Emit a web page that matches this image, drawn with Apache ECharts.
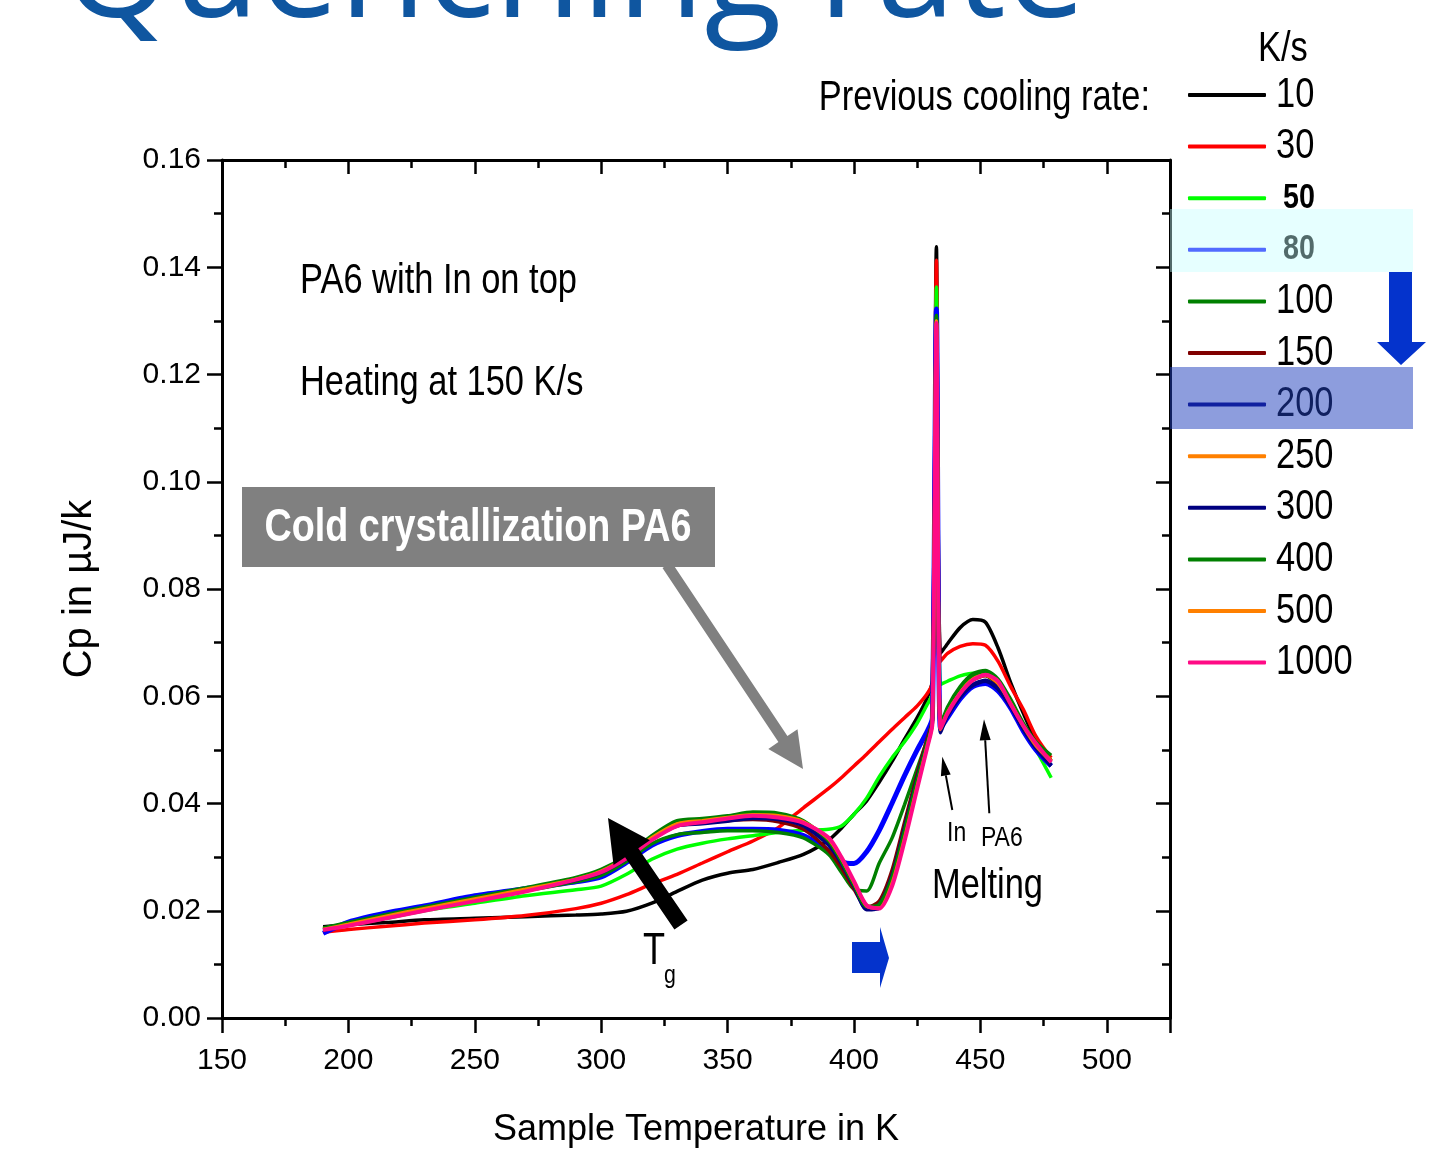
<!DOCTYPE html>
<html>
<head>
<meta charset="utf-8">
<script src="https://cdn.jsdelivr.net/npm/echarts@6/dist/echarts.min.js"></script>
<style>
html,body{margin:0;padding:0;background:#fff;}
#chart{width:1451px;height:1152px;}
</style>
</head>
<body>
<div id="chart"></div>
<script>
// ---------- data ----------
const temps = [190, 200, 215, 230, 250, 270, 290, 300, 310, 320, 330, 340, 350, 360, 370, 380, 390, 395, 400, 405, 410, 415, 420, 425, 429, 431, 432.6, 434.2, 437, 442, 447, 452, 457, 462, 467, 472, 478];

const rateNames = ['10', '30', '50', '80', '100', '150', '200', '250', '300', '400', '500', '1000'];
const rateColors = ['#000000', '#ff0000', '#00ff00', '#0000ff', '#008000', '#800000', '#000080', '#ff8000', '#000080', '#008000', '#ff8000', '#ff0a85'];

const cp10   = [.0170, .0174, .0178, .0183, .0186, .0189, .0192, .0194, .0199, .0214, .0236, .0257, .0270, .0277, .0290, .0305, .0332, .0354, .0380, .0405, .0440, .0478, .0520, .0560, .0598, .0630, .1438, .0680, .0698, .0728, .0743, .0738, .0690, .0625, .0568, .0518, .0480];
const cp30   = [.0160, .0165, .0171, .0177, .0183, .0191, .0204, .0214, .0230, .0250, .0268, .0289, .0310, .0330, .0355, .0392, .0428, .0448, .0470, .0492, .0515, .0538, .0560, .0582, .0605, .0625, .1413, .0665, .0680, .0693, .0698, .0695, .0665, .0618, .0575, .0525, .0485];
const cp50   = [.0166, .0173, .0186, .0200, .0214, .0228, .0239, .0246, .0268, .0296, .0315, .0326, .0334, .0340, .0346, .0350, .0352, .0358, .0380, .0410, .0450, .0485, .0515, .0550, .0585, .0605, .1363, .0622, .0628, .0638, .0643, .0640, .0617, .0580, .0537, .0500, .0448];
const cp80   = [.0158, .0179, .0196, .0209, .0228, .0241, .0254, .0263, .0290, .0322, .0340, .0348, .0352, .0352, .0350, .0340, .0312, .0292, .0288, .0310, .0350, .0400, .0452, .0500, .0535, .0560, .1322, .0540, .0560, .0595, .0618, .0624, .0610, .0578, .0535, .0500, .0470];
const cp100  = [.0165, .0175, .0189, .0202, .0221, .0237, .0254, .0266, .0292, .0325, .0342, .0346, .0349, .0349, .0346, .0336, .0305, .0272, .0240, .0237, .0289, .0335, .0398, .0465, .0520, .0555, .1310, .0548, .0575, .0612, .0636, .0645, .0630, .0590, .0545, .0508, .0478];
const cp150  = [.0165, .0175, .0190, .0204, .0222, .0240, .0258, .0272, .0298, .0334, .0360, .0364, .0368, .0370, .0366, .0352, .0312, .0280, .0240, .0206, .0218, .0275, .0365, .0455, .0522, .0555, .1300, .0540, .0572, .0607, .0630, .0638, .0622, .0587, .0545, .0510, .0480];
const cp200  = [.0163, .0174, .0189, .0203, .0221, .0239, .0257, .0271, .0297, .0333, .0358, .0362, .0367, .0372, .0370, .0358, .0322, .0288, .0245, .0203, .0212, .0265, .0355, .0448, .0516, .0552, .1300, .0535, .0565, .0600, .0622, .0630, .0615, .0582, .0540, .0505, .0472];
const cp250  = [.0166, .0176, .0191, .0205, .0223, .0241, .0260, .0275, .0301, .0337, .0364, .0369, .0375, .0380, .0378, .0366, .0332, .0296, .0252, .0210, .0207, .0255, .0340, .0436, .0510, .0550, .1300, .0540, .0572, .0608, .0632, .0640, .0625, .0588, .0546, .0510, .0480];
const cp300  = [.0164, .0174, .0189, .0203, .0222, .0240, .0258, .0273, .0299, .0335, .0360, .0365, .0370, .0374, .0372, .0360, .0326, .0292, .0248, .0202, .0205, .0258, .0345, .0440, .0512, .0550, .1300, .0532, .0563, .0598, .0620, .0628, .0613, .0580, .0538, .0503, .0470];
const cp400  = [.0168, .0178, .0193, .0207, .0225, .0243, .0262, .0277, .0303, .0340, .0368, .0372, .0377, .0384, .0382, .0368, .0330, .0292, .0248, .0208, .0212, .0262, .0350, .0445, .0515, .0552, .1310, .0545, .0580, .0618, .0642, .0648, .0632, .0594, .0550, .0515, .0490];
const cp500  = [.0165, .0175, .0190, .0204, .0222, .0240, .0259, .0274, .0300, .0336, .0362, .0368, .0374, .0379, .0377, .0366, .0334, .0298, .0253, .0209, .0205, .0250, .0335, .0432, .0508, .0549, .1300, .0538, .0570, .0606, .0631, .0639, .0624, .0586, .0544, .0508, .0478];
const cp1000 = [.0164, .0172, .0186, .0200, .0218, .0236, .0258, .0272, .0298, .0332, .0358, .0365, .0372, .0377, .0374, .0364, .0336, .0300, .0255, .0210, .0204, .0245, .0330, .0428, .0505, .0548, .1296, .0540, .0568, .0605, .0630, .0640, .0628, .0585, .0545, .0512, .0477];

const cpSeries = [cp10, cp30, cp50, cp80, cp100, cp150, cp200, cp250, cp300, cp400, cp500, cp1000];

const xTicks = [150, 200, 250, 300, 350, 400, 450, 500];
const yTicks = [0, 0.02, 0.04, 0.06, 0.08, 0.10, 0.12, 0.14, 0.16];

// ---------- chart ----------
const FONT = "'Liberation Sans',Arial,sans-serif";
const NARROW = 0.82;   // reference text is a narrow face
const chart = echarts.init(document.getElementById('chart'), null, {renderer: 'canvas'});

const series = rateNames.map((name, i) => ({
  name: name,
  type: 'line',
  xAxisIndex: 0,
  yAxisIndex: 0,
  data: temps.map((t, k) => [t, cpSeries[i][k]]),
  symbol: 'none',
  showSymbol: false,
  smooth: 0.25,
  color: rateColors[i],
  lineStyle: {color: rateColors[i], width: name === '80' ? 5 : (name === '1000' ? 4 : 3.5)},
  emphasis: {disabled: true},
  silent: true,
  animation: false
}));

const tickStyle = {color: '#000', width: 2.5};
const lineStyleAxis = {color: '#000', width: 3};

function txt(text, x, y, size, opts, sx) {
  return {
    type: 'text', x: x, y: y, z: 20, scaleX: sx === undefined ? NARROW : sx,
    style: Object.assign({text: text, fontSize: size, fontFamily: FONT, fill: '#000', align: 'left', verticalAlign: 'middle'}, opts || {})
  };
}

// legend labels (narrow text next to the legend keys)
const legendRow0 = 95, legendStep = 51.6;
const legendLabels = rateNames.map((n, i) => {
  const bold = (n === '50' || n === '80');
  return txt(n, bold ? 1283 : 1276, legendRow0 + legendStep * i, bold ? 35 : 42, bold ? {fontWeight: 'bold'} : {});
});

const option = {
  animation: false,
  backgroundColor: '#fff',
  grid: {left: 222, right: 281, top: 160, bottom: 134, containLabel: false, outerBoundsMode: 'none'},
  xAxis: [
    {
      type: 'value', min: 150, max: 525, interval: 50, position: 'bottom',
      axisLine: {show: true, onZero: false, lineStyle: lineStyleAxis},
      axisTick: {show: true, length: 15, lineStyle: tickStyle},
      minorTick: {show: false},
      splitLine: {show: false},
      axisLabel: {
        fontSize: 30, fontFamily: FONT, color: '#000', margin: 28,
        formatter: v => (xTicks.indexOf(v) >= 0 ? String(v) : '')
      },
      name: 'Sample Temperature in K', nameLocation: 'middle', nameGap: 94,
      nameTextStyle: {fontSize: 36, fontFamily: FONT, color: '#000'}
    },
    {
      type: 'value', min: 150, max: 525, interval: 25, position: 'bottom',
      axisLine: {show: false, onZero: false},
      axisTick: {show: true, length: 8, lineStyle: tickStyle},
      axisLabel: {show: false}, splitLine: {show: false}
    },
    {
      type: 'value', min: 150, max: 525, interval: 50, position: 'top',
      axisLine: {show: true, onZero: false, lineStyle: lineStyleAxis},
      axisTick: {show: true, inside: true, length: 14, lineStyle: tickStyle},
      axisLabel: {show: false}, splitLine: {show: false}
    },
    {
      type: 'value', min: 150, max: 525, interval: 25, position: 'top',
      axisLine: {show: false, onZero: false},
      axisTick: {show: true, inside: true, length: 8, lineStyle: tickStyle},
      axisLabel: {show: false}, splitLine: {show: false}
    }
  ],
  yAxis: [
    {
      type: 'value', min: 0, max: 0.16, interval: 0.02, position: 'left',
      axisLine: {show: true, onZero: false, lineStyle: lineStyleAxis},
      axisTick: {show: true, length: 15, lineStyle: tickStyle},
      minorTick: {show: true, splitNumber: 2, length: 8, lineStyle: tickStyle},
      splitLine: {show: false},
      axisLabel: {fontSize: 30, fontFamily: FONT, color: '#000', margin: 21, formatter: v => v.toFixed(2)},
      name: 'Cp in µJ/k', nameLocation: 'middle', nameGap: 122, nameRotate: 90,
      nameTextStyle: {fontSize: 40, fontFamily: FONT, color: '#000'}
    },
    {
      type: 'value', min: 0, max: 0.16, interval: 0.02, position: 'right',
      axisLine: {show: true, onZero: false, lineStyle: lineStyleAxis},
      axisTick: {show: true, inside: true, length: 14, lineStyle: tickStyle},
      minorTick: {show: true, splitNumber: 2, length: 8, lineStyle: tickStyle},
      splitLine: {show: false},
      axisLabel: {show: false}
    }
  ],
  legend: {
    show: true, orient: 'vertical', left: 1188, top: 73, padding: 0,
    itemWidth: 78, itemHeight: 4, itemGap: 7.6, icon: 'roundRect',
    selectedMode: false,
    data: rateNames,
    formatter: () => ' ',
    textStyle: {fontSize: 20, fontFamily: FONT, color: '#000', lineHeight: 44, width: 10}
  },
  graphic: [
    // partially cut title
    {type: 'text', x: 62, y: -23, z: 20, style: {text: 'Quenching rate', fontSize: 142, fontFamily: "'Open Sans',sans-serif", fill: '#0f56a0', align: 'left', verticalAlign: 'middle'}},
    txt('K/s', 1258, 49, 42),
    txt('Previous cooling rate:', 1150, 98, 42, {align: 'right'}),
    txt('PA6 with In on top', 300, 281, 42),
    txt('Heating at 150 K/s', 300, 383, 42),
    // gray label box + arrow
    {type: 'rect', z: 20, shape: {x: 242, y: 487, width: 473, height: 80}, style: {fill: '#808080'}},
    txt('Cold crystallization PA6', 478, 528, 46, {fontWeight: 'bold', fill: '#ffffff', align: 'center'}),
    {type: 'polygon', z: 20, shape: {points: [[671.5, 562], [787.4, 736.1], [797.5, 729.3], [803, 769], [768.3, 748.9], [778.4, 742.1], [662.5, 568]]}, style: {fill: '#808080'}},
    // Tg arrow
    {type: 'polygon', z: 20, shape: {points: [[687.6, 920.5], [638.3, 848.2], [649.9, 840.3], [608, 818], [613.5, 865.1], [625.1, 857.2], [674.4, 929.5]]}, style: {fill: '#000'}},
    txt('T', 643, 952, 44),
    txt('g', 664, 976, 26),
    // melting annotations
    {type: 'line', z: 20, shape: {x1: 952.3, y1: 810, x2: 945.8, y2: 775.4}, style: {stroke: '#000', lineWidth: 2}},
    {type: 'polygon', z: 20, shape: {points: [[942.3, 756.7], [950.7, 774.5], [940.9, 776.3]]}, style: {fill: '#000'}},
    {type: 'line', z: 20, shape: {x1: 989.3, y1: 813.3, x2: 985.2, y2: 740.3}, style: {stroke: '#000', lineWidth: 2}},
    {type: 'polygon', z: 20, shape: {points: [[984, 719.3], [990.7, 740], [979.7, 740.6]]}, style: {fill: '#000'}},
    txt('In', 947, 833, 28),
    txt('PA6', 981, 838, 28),
    txt('Melting', 932, 886, 42),
    // blue arrows
    {type: 'polygon', z: 20, shape: {points: [[852, 942], [880, 942], [880, 927], [889, 958], [880, 988], [880, 973], [852, 973]]}, style: {fill: '#0433cc'}},
    {type: 'polygon', z: 20, shape: {points: [[1389, 272], [1412, 272], [1412, 342], [1426, 342], [1401, 365], [1377, 342], [1389, 342]]}, style: {fill: '#0433cc'}}
  ].concat(legendLabels).concat([
    // translucent highlight boxes over the legend
    {type: 'rect', z: 50, shape: {x: 1170, y: 209, width: 243, height: 63}, style: {fill: 'rgba(195,255,255,0.42)'}},
    {type: 'rect', z: 50, shape: {x: 1170, y: 367, width: 243, height: 62}, style: {fill: 'rgba(31,63,188,0.51)'}}
  ]),
  series: series
};
chart.setOption(option);
</script>
</body>
</html>
